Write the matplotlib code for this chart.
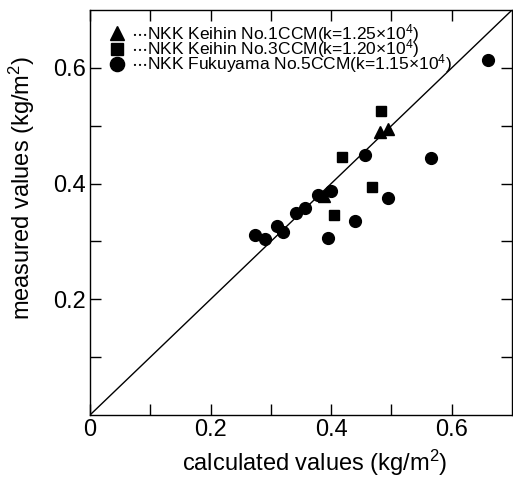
import matplotlib
matplotlib.use('Agg')
import matplotlib.pyplot as plt
from matplotlib.ticker import FixedLocator

plt.rcParams['font.family'] = ['Liberation Sans', 'DejaVu Sans']
plt.rcParams['mathtext.fontset'] = 'custom'
plt.rcParams['mathtext.rm'] = 'Liberation Sans'
plt.rcParams['mathtext.it'] = 'Liberation Sans'

# Keihin No.1 CCM (triangles)
k1_calc = [0.481, 0.494, 0.388]
k1_meas = [0.490, 0.494, 0.379]

# Keihin No.3 CCM (squares)
k3_calc = [0.483, 0.418, 0.468, 0.405]
k3_meas = [0.525, 0.446, 0.395, 0.345]

# Fukuyama No.5 CCM (circles)
f5_calc = [0.273, 0.291, 0.310, 0.321, 0.341, 0.357, 0.379, 0.400, 0.395,
           0.439, 0.495, 0.457, 0.566, 0.660]
f5_meas = [0.312, 0.305, 0.326, 0.317, 0.349, 0.357, 0.381, 0.388, 0.306,
           0.336, 0.375, 0.450, 0.444, 0.614]

labels = [r'$\cdots$NKK Keihin No.1CCM(k=1.25$\times$10$^4$)',
          r'$\cdots$NKK Keihin No.3CCM(k=1.20$\times$10$^4$)',
          r'$\cdots$NKK Fukuyama No.5CCM(k=1.15$\times$10$^4$)']

fig = plt.figure(figsize=(5.13, 4.80), dpi=100)
ax = fig.add_axes([0.1754, 0.1354, 0.8226, 0.8436])

# 1:1 line
ax.plot([0, 0.7], [0, 0.7], 'k-', linewidth=1.0)

ax.plot(k1_calc, k1_meas, 'k^', markersize=8, linestyle='none', label=labels[0])
ax.plot(k3_calc, k3_meas, 'ks', markersize=7, linestyle='none', label=labels[1])
ax.plot(f5_calc, f5_meas, 'ko', markersize=8.5, linestyle='none', label=labels[2])

ax.set_xlim(0, 0.7)
ax.set_ylim(0, 0.7)

ax.xaxis.set_major_locator(FixedLocator([0, 0.2, 0.4, 0.6]))
ax.xaxis.set_minor_locator(FixedLocator([0.1, 0.3, 0.5]))
ax.yaxis.set_major_locator(FixedLocator([0.2, 0.4, 0.6]))
ax.yaxis.set_minor_locator(FixedLocator([0.1, 0.3, 0.5]))
ax.set_xticklabels(['0', '0.2', '0.4', '0.6'])
ax.set_yticklabels(['0.2', '0.4', '0.6'])

ax.tick_params(which='both', direction='in', length=8, width=1,
               top=True, right=True, labelsize=17, pad=3)

ax.set_xlabel('calculated values (kg/m$^2$)', fontsize=17)
ax.set_ylabel('measured values (kg/m$^2$)', fontsize=17)
ax.xaxis.set_label_coords(0.533, -0.082)
ax.yaxis.set_label_coords(-0.125, 0.56)

for s in ax.spines.values():
    s.set_linewidth(1.0)

ax.legend(loc='upper left', bbox_to_anchor=(0.015, 1.0), frameon=False,
          fontsize=12.5, handlelength=1.0, handletextpad=0.3,
          labelspacing=-0.45, borderpad=0.2, markerscale=1.2)

plt.savefig('out.png', dpi=100)
plt.close()
